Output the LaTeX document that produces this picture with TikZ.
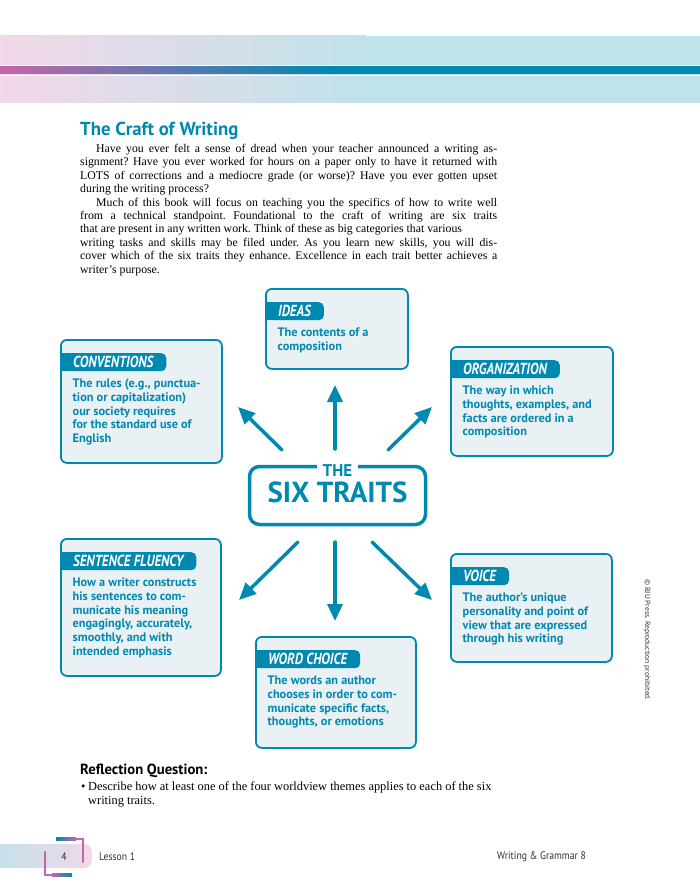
\documentclass[tikz,border=0pt]{standalone}
\usepackage{fontspec}
\setmainfont{Liberation Serif}
\newfontfamily\headfont{PT Sans}
\newfontfamily\tagfont[FakeStretch=0.82]{PT Sans}
\newfontfamily\footfont[FakeStretch=0.88]{PT Sans}
\usepackage{xcolor}
\usetikzlibrary{arrows.meta, positioning}
\frenchspacing

\definecolor{traitblue}{HTML}{0089B0}
\definecolor{cardfill}{HTML}{EAF1F5}
\definecolor{bandpink}{HTML}{F2D8E8}
\definecolor{bandcyan}{HTML}{C0E2EA}
\definecolor{bandmag}{HTML}{C466A9}
\definecolor{footgray}{HTML}{333333}

\begin{document}
\begin{tikzpicture}[x=1pt, y=-1pt,
        card/.style={draw=traitblue, line width=1.8pt, fill=cardfill,
                     rounded corners=6pt, inner sep=0pt, anchor=north west},
        tag/.style={fill=traitblue, text=white, rounded corners=5pt,
                    inner xsep=13pt, inner ysep=0pt, minimum height=18pt,
                    anchor=north west,
                    font=\tagfont\bfseries\itshape\fontsize{16}{16}\selectfont},
        desc/.style={anchor=north west, inner sep=0pt, align=left, text=traitblue,
                     font=\headfont\bfseries\fontsize{12.3}{13.7}\selectfont},
        arr/.style={traitblue, line width=3.5pt, line cap=round,
                    -{Triangle[length=17pt, width=15pt]}},
        body/.style={anchor=north west, inner sep=0pt, text width=417pt,
                     align=justify, font=\fontsize{11.8}{13.4}\selectfont},
        foot/.style={inner sep=0pt, text=footgray,
                     font=\footfont\fontsize{11}{11}\selectfont}
      ]
        \useasboundingbox (0,0) rectangle (700,896);

        % header band
        \shade[left color=bandpink, right color=bandcyan] (0,36) rectangle (366,103);
        \fill[bandcyan] (366,36) rectangle (700,103);
        \shade[left color=bandmag, right color=traitblue] (0,66) rectangle (330,74);
        \fill[traitblue] (330,66) rectangle (700,74);
        \draw[white, line width=0.8pt] (0,65) -- (700,65) (0,75) -- (700,75);

        % title and text
        \node[anchor=base west, inner sep=0pt, text=traitblue,
              font=\headfont\bfseries\fontsize{18.8}{18.8}\selectfont] (title) at (80,136) {The Craft of Writing};
        \node[body] (para) at (80,144) {\hspace*{16pt}Have you ever felt a sense of dread when your teacher announced a writing as-\linebreak
          signment? Have you ever worked for hours on a paper only to have it returned with\linebreak
          LOTS of corrections and a mediocre grade (or worse)? Have you ever gotten upset\linebreak
          during the writing process?\par
          \hspace*{16pt}Much of this book will focus on teaching you the specifics of how to write well\linebreak
          from a technical standpoint. Foundational to the craft of writing are six traits\linebreak
          that are present in any written work. Think of these as big categories that various\newline
          writing tasks and skills may be filed under. As you learn new skills, you will dis-\linebreak
          cover which of the six traits they enhance. Excellence in each trait better achieves a\linebreak
          writer’s purpose.};

        % trait cards
        \foreach \n/\cx/\cy/\w/\h/\lab/\txt in {
            ideas/265/288/142/80/IDEAS/{The contents of a\\composition},
            conventions/60/339/161/123/CONVENTIONS/{The rules (e.g., punctua-\\tion or capitalization)\\our society requires\\for the standard use of\\English},
            organization/450/346/162/109/ORGANIZATION/{The way in which\\thoughts, examples, and\\facts are ordered in a\\composition},
            fluency/60/538/160/137/SENTENCE FLUENCY/{How a writer constructs\\his sentences to com-\\municate his meaning\\engagingly, accurately,\\smoothly, and with\\intended emphasis},
            voice/450/553/161/108/VOICE/{The author’s unique\\personality and point of\\view that are expressed\\through his writing},
            wordchoice/255/636/160/111/WORD CHOICE/{The words an author\\chooses in order to com-\\municate specific facts,\\thoughts, or emotions}} {
          \node[card, minimum width=\w pt, minimum height=\h pt] (\n) at (\cx,\cy) {};
          \node[tag] (\n-tag) at ([yshift=-14pt]\n.north west) {\lab};
          \fill[traitblue] (\n-tag.north west) rectangle ([xshift=6pt]\n-tag.south west);
          \node[desc] (\n-txt) at ([xshift=12.5pt, yshift=-7.5pt]\n-tag.south west) {\txt};
        }

        % centre
        \node[draw=traitblue, line width=3.5pt, rounded corners=10pt,
              minimum width=176pt, minimum height=58pt, inner sep=0pt] (traits) at (337.5,495.5) {};
        \node[anchor=base, inner sep=0pt, text=traitblue,
              font=\headfont\bfseries\fontsize{29}{29}\selectfont] (six) at (337.5,502) {SIX TRAITS};
        \node[anchor=base, fill=white, inner xsep=6pt, inner ysep=1pt, text=traitblue,
              font=\headfont\bfseries\fontsize{17}{17}\selectfont] (the) at (337.5,476) {THE};

        % arrows
        \coordinate (n-tail)  at (335,449);
        \coordinate (n-tip)   at (335,385);
        \coordinate (nw-tail) at (282,450);
        \coordinate (nw-tip)  at (238,407);
        \coordinate (ne-tail) at (388,450);
        \coordinate (ne-tip)  at (432,407);
        \coordinate (s-tail)  at (335,542);
        \coordinate (s-tip)   at (335,621);
        \coordinate (sw-tail) at (298,542);
        \coordinate (sw-tip)  at (239,600);
        \coordinate (se-tail) at (372,542);
        \coordinate (se-tip)  at (432,600);
        \foreach \d in {n, nw, ne, s, sw, se}
          \draw[arr] (\d-tail) -- (\d-tip);

        % reflection
        \node[anchor=base west, inner sep=0pt,
              font=\headfont\bfseries\fontsize{14.7}{14.7}\selectfont] (refl) at (80,774) {Reflection Question:};
        \node[anchor=base west, inner sep=0pt, font=\fontsize{12.4}{14}\selectfont] (dot) at (81,790) {\textbullet};
        \node[anchor=north west, inner sep=0pt, align=left,
              font=\fontsize{12.4}{14}\selectfont] (task) at (88,781.5) {Describe how at least one of the four worldview themes applies to each of the six\\writing traits.};

        % footer
        \shade[left color=bandcyan, right color=bandpink, rounded corners=8pt] (-12,844) rectangle (92,868);
        \draw[bandmag, line width=2.4pt, line cap=round] (58,839) -| (83,862);
        \draw[bandmag, line width=2.4pt, line cap=round] (45,852) |- (70,875);
        \shade[left color=traitblue, right color=bandmag] (56,837.8) rectangle (76,840.2);
        \shade[left color=bandmag, right color=traitblue] (52,873.8) rectangle (72,876.2);
        \node[foot] (pageno) at (64,857) {4};
        \node[foot, anchor=west] (lesson) at (99,857) {Lesson 1};
        \node[foot, anchor=west] (book) at (497,857) {Writing \& Grammar 8};
        \node[rotate=-90, inner sep=0pt, text=black!80,
              font=\headfont\fontsize{7.5}{7.5}\selectfont] (rights) at (647,640) {© BJU Press. Reproduction prohibited.};
      \end{tikzpicture}
\end{document}
